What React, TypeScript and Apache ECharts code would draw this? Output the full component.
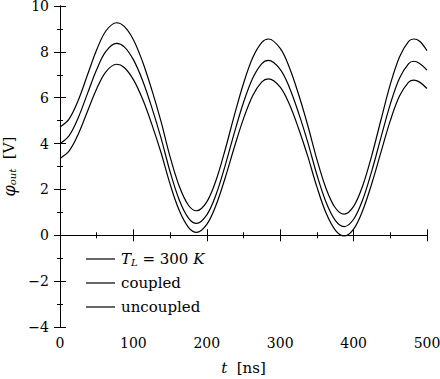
import React, { useEffect, useRef } from "react";
import * as echarts from "echarts";

const times = [
  0, 12.5, 25, 37.5, 50, 62.5, 77, 87.5, 100, 112.5, 125, 137.5, 150, 162.5, 175, 186,
  200, 212.5, 225, 237.5, 250, 262.5, 275, 284, 300, 312.5, 325, 337.5, 350, 362.5, 375, 387,
  400, 412.5, 425, 437.5, 450, 462.5, 475, 482, 490, 500,
];

const seriesTL = [
  4.72, 5.08, 5.9, 7.0, 8.09, 8.91, 9.27, 9.11, 8.53, 7.57, 6.35, 4.98, 3.42, 2.14, 1.31, 1.07,
  1.46, 2.39, 3.73, 5.23, 6.62, 7.74, 8.41, 8.56, 8.15, 7.32, 6.15, 4.8, 3.31, 2.04, 1.2, 0.92,
  1.26, 2.17, 3.51, 5.06, 6.58, 7.78, 8.46, 8.56, 8.46, 8.05,
];

const seriesCoupled = [
  4.0, 4.35, 5.14, 6.19, 7.23, 8.02, 8.37, 8.22, 7.66, 6.75, 5.58, 4.26, 2.77, 1.54, 0.75, 0.52,
  0.89, 1.77, 3.04, 4.47, 5.79, 6.85, 7.49, 7.63, 7.24, 6.45, 5.34, 4.06, 2.64, 1.44, 0.65, 0.38,
  0.7, 1.56, 2.83, 4.29, 5.72, 6.85, 7.49, 7.59, 7.49, 7.2,
];

const seriesUncoupled = [
  3.35, 3.68, 4.42, 5.41, 6.39, 7.13, 7.46, 7.32, 6.79, 5.94, 4.85, 3.62, 2.23, 1.08, 0.35, 0.13,
  0.48, 1.31, 2.5, 3.84, 5.09, 6.09, 6.69, 6.82, 6.46, 5.71, 4.66, 3.45, 2.11, 0.97, 0.23, -0.03,
  0.27, 1.09, 2.28, 3.65, 5.0, 6.07, 6.68, 6.77, 6.68, 6.4,
];

const seriesNames = ["TL", "coupled", "uncoupled"];

const FONT = "DejaVu Serif";

export default function App() {
  const ref = useRef<HTMLDivElement>(null);
  useEffect(() => {
    document.body.style.margin = "0";
    const chart = echarts.init(ref.current!, null, { renderer: "svg" });
    const pairs = (vals: number[]) => times.map((t, i) => [t, vals[i]]);
    const lineSeries = (name: string, vals: number[]) => ({
      name,
      type: "line",
      data: pairs(vals),
      symbol: "none",
      smooth: 0.35,
      lineStyle: { color: "#000", width: 1.2 },
      itemStyle: { color: "#000" },
    });
    const axisCommon = {
      axisLine: { show: true, lineStyle: { color: "#000", width: 1 } },
      axisTick: { show: true, inside: true, length: 6, lineStyle: { color: "#000" } },
      minorTick: { show: true, splitNumber: 2, length: 3, lineStyle: { color: "#000" } },
      splitLine: { show: false },
    };
    const fmt = (v: number) => (v < 0 ? "\u2212" + Math.abs(v) : String(v));
    chart.setOption({
      animation: false,
      textStyle: { fontFamily: FONT, color: "#000" },
      grid: { left: 60, right: 13, top: 6, bottom: 52, containLabel: false, outerBoundsMode: "none" },
      xAxis: [
        {
          type: "value",
          min: 0,
          max: 500,
          interval: 100,
          ...axisCommon,
          axisLabel: { color: "#000", fontSize: 14, fontFamily: FONT, margin: 9, formatter: fmt },
          name: "{i|t}  [ns]",
          nameLocation: "middle",
          nameGap: 33,
          nameTextStyle: {
            color: "#000",
            fontSize: 15,
            fontFamily: FONT,
            rich: { i: { fontStyle: "italic", fontSize: 15, fontFamily: FONT, color: "#000" } },
          },
        },
        {
          type: "value",
          position: "top",
          min: 0,
          max: 500,
          interval: 100,
          ...axisCommon,
          axisLabel: { show: false },
        },
      ],
      yAxis: [
        {
          type: "value",
          min: -4,
          max: 10,
          interval: 2,
          ...axisCommon,
          axisLabel: { color: "#000", fontSize: 14, lineHeight: 10, fontFamily: FONT, margin: 11, formatter: fmt },
          name: "{i|\u03c6}{sub|out}  [V]",
          nameLocation: "middle",
          nameGap: 42,
          nameTextStyle: {
            color: "#000",
            fontSize: 15,
            lineHeight: 16,
            fontFamily: FONT,
            rich: {
              i: { fontStyle: "italic", fontSize: 16, lineHeight: 16, fontFamily: FONT, color: "#000" },
              sub: { fontStyle: "italic", fontSize: 10, lineHeight: 10, fontFamily: FONT, color: "#000", padding: [6, 0, 0, 0] },
            },
          },
        },
        {
          type: "value",
          position: "right",
          min: -4,
          max: 10,
          interval: 2,
          ...axisCommon,
          axisLabel: { show: false },
        },
      ],
      legend: {
        orient: "vertical",
        left: 81,
        top: 245,
        icon: "rect",
        itemWidth: 29,
        itemHeight: 1.2,
        itemGap: 6,
        data: seriesNames,
        formatter: (name: string) =>
          name === "TL" ? "{i|T}{sub|L} = 300 {i|K}" : name,
        textStyle: {
          color: "#000",
          fontSize: 15,
          fontFamily: FONT,
          lineHeight: 18,
          padding: [0, 0, 0, 1],
          rich: {
            i: { fontStyle: "italic", fontSize: 15, fontFamily: FONT, color: "#000" },
            sub: { fontStyle: "italic", fontSize: 10, fontFamily: FONT, color: "#000", padding: [7, 0, 0, 0] },
          },
        },
      },
      series: [
        lineSeries("TL", seriesTL),
        lineSeries("coupled", seriesCoupled),
        lineSeries("uncoupled", seriesUncoupled),
      ],
    });
    return () => chart.dispose();
  }, []);
  return <div ref={ref} style={{ width: 440, height: 379 }} />;
}
